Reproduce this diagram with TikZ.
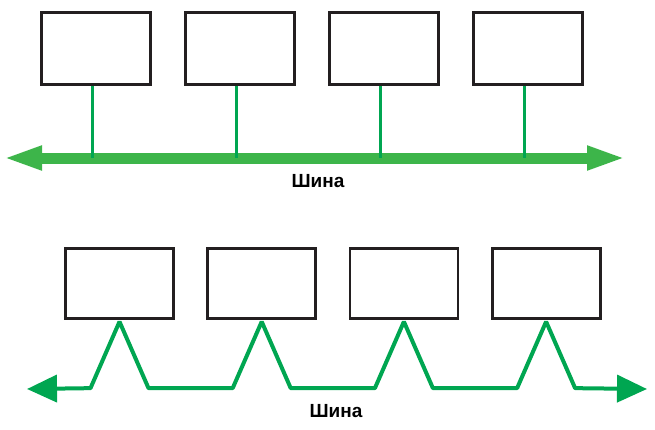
\documentclass[tikz,border=0pt]{standalone}
\usepackage{fontspec}
\setmainfont{Liberation Sans}
\usetikzlibrary{arrows.meta,calc}
\definecolor{busgreen}{HTML}{3DB54A}
\definecolor{linegreen}{HTML}{00A651}
\definecolor{boxblack}{HTML}{231F20}
\tikzset{
  unit/.style={draw=boxblack,line width=3.2pt,minimum width=109pt,minimum height=72pt,inner sep=0pt},
  bigbus/.style={busgreen,line width=11pt,{Triangle[length=39pt 0 0,width=22pt 0 0]}-{Triangle[length=39pt 0 0,width=22pt 0 0]}},
  tap/.style={linegreen,line width=3pt},
  zigbus/.style={linegreen,line width=4pt,line join=bevel,{Triangle[length=30pt 0 0,width=27pt 0 0]}-{Triangle[length=30pt 0 0,width=27pt 0 0]}},
  lbl/.style={font=\bfseries\fontsize{19}{19}\selectfont}
}
\begin{document}
\begin{tikzpicture}[x=1pt,y=-1pt]
\useasboundingbox (0,0) rectangle (655,429);
% common bus
\coordinate (busL) at (3,158); \coordinate (busR) at (626,158);
\foreach \i in {1,...,4}
  \node[unit] (t\i) at ({96+144*(\i-1)},48.5) {};
\draw[bigbus] (busL) -- (busR);
\foreach \i in {1,...,4}
  \draw[tap] ([xshift=-4pt]t\i.south) -- ([xshift=-4pt]t\i.south |- busL);
\node[lbl] (bus1) at (318,181) {Шина};
% daisy chain
\foreach \i in {1,...,4}
  \node[unit,line width=2.8pt,minimum width=108pt,minimum height=70.5pt] (b\i) at ({119.5+142.2*(\i-1)},283.5) {};
\coordinate (zL) at (27,389); \coordinate (zR) at (647,389);
\draw[zigbus] (zL)
  \foreach \i in {1,...,4} { -- ($(b\i.south)+(-29,68)$) -- ($(b\i.south)+(0,1.5)$) -- ($(b\i.south)+(29,68)$) }
  -- (zR);
\node[lbl] (bus2) at (336,411) {Шина};
\end{tikzpicture}
\end{document}
